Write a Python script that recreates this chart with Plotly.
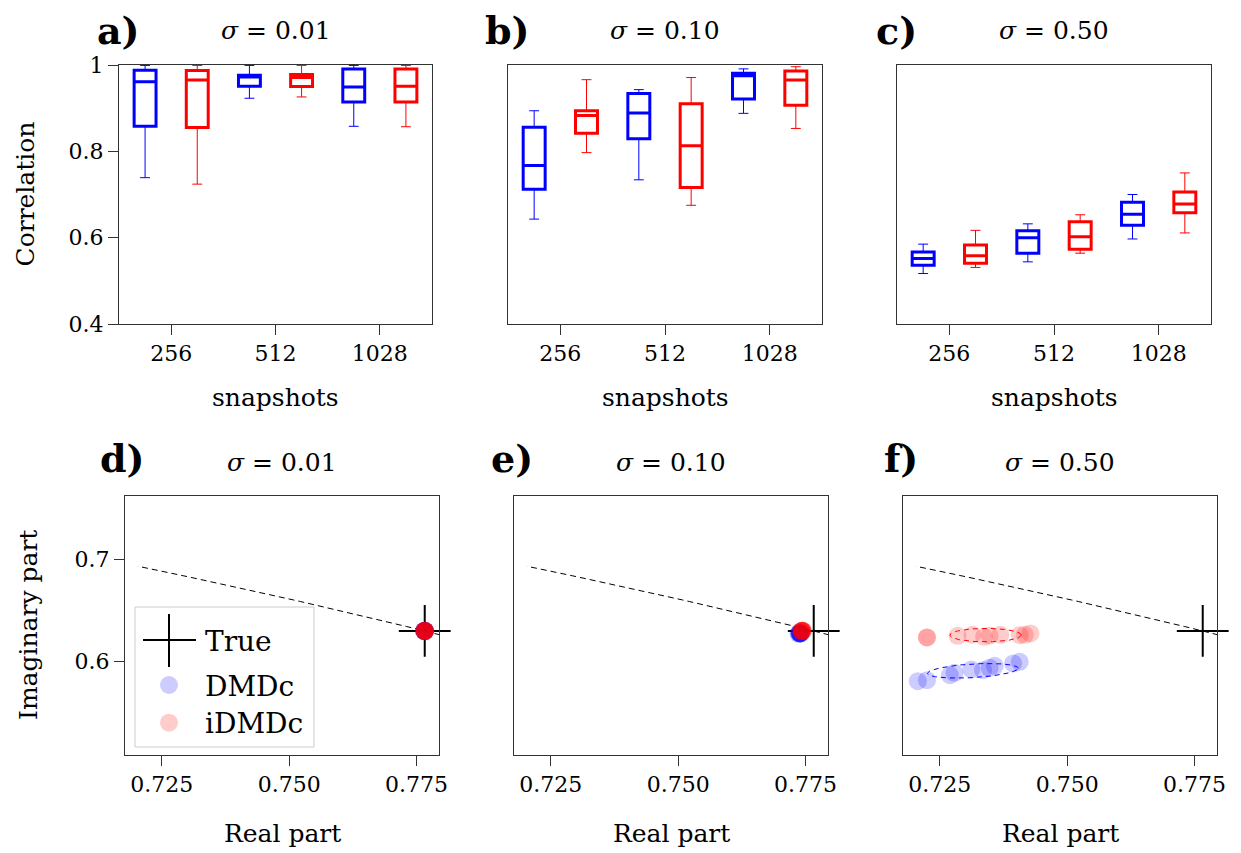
import numpy as np
import plotly.graph_objects as go
from plotly.subplots import make_subplots

W, H = 1241, 853
FONT = "DejaVu Serif"

# ---------------- data ----------------
snapshots = ["256", "512", "1028"]
sigmas = ["0.01", "0.10", "0.50"]
panel_letters_top = ["a)", "b)", "c)"]
panel_letters_bot = ["d)", "e)", "f)"]

# box statistics per panel (a, b, c), each list over snapshots 256/512/1028
dmdc_lower = [[0.739, 0.923, 0.858], [0.643, 0.734, 0.888], [0.517, 0.544, 0.597]]
dmdc_q1    = [[0.858, 0.951, 0.914], [0.712, 0.829, 0.921], [0.536, 0.564, 0.629]]
dmdc_med   = [[0.961, 0.972, 0.949], [0.767, 0.889, 0.975], [0.552, 0.600, 0.654]]
dmdc_q3    = [[0.988, 0.976, 0.991], [0.856, 0.934, 0.981], [0.567, 0.616, 0.682]]
dmdc_upper = [[0.999, 0.999, 0.999], [0.894, 0.943, 0.991], [0.585, 0.632, 0.700]]

idmdc_lower = [[0.724, 0.926, 0.857], [0.797, 0.675, 0.853], [0.531, 0.564, 0.611]]
idmdc_q1    = [[0.855, 0.950, 0.914], [0.842, 0.716, 0.907], [0.541, 0.573, 0.658]]
idmdc_med   = [[0.965, 0.971, 0.951], [0.883, 0.813, 0.965], [0.558, 0.602, 0.678]]
idmdc_q3    = [[0.987, 0.978, 0.991], [0.894, 0.910, 0.986], [0.583, 0.637, 0.706]]
idmdc_upper = [[0.999, 0.999, 0.999], [0.966, 0.971, 0.996], [0.617, 0.653, 0.750]]

# eigenvalue estimates per panel (d, e, f)
true_re = 0.7766
true_im = 0.6300

dmdc_re = [
    [0.7765, 0.7766, 0.7767, 0.7764, 0.7766, 0.7765, 0.7767, 0.7766, 0.7765, 0.7766],
    [0.7736, 0.7738, 0.7739, 0.7740, 0.7737, 0.7741, 0.7739, 0.7738, 0.7740, 0.7739],
    [0.7207, 0.7225, 0.7270, 0.7279, 0.7312, 0.7335, 0.7348, 0.7358, 0.7394, 0.7407],
]
dmdc_im = [
    [0.6299, 0.6300, 0.6301, 0.6300, 0.6299, 0.6301, 0.6300, 0.6299, 0.6300, 0.6301],
    [0.6272, 0.6276, 0.6278, 0.6275, 0.6279, 0.6277, 0.6274, 0.6280, 0.6276, 0.6278],
    [0.5806, 0.5816, 0.5865, 0.5888, 0.5921, 0.5914, 0.5937, 0.5957, 0.5980, 0.5996],
]
idmdc_re = [
    [0.7766, 0.7765, 0.7766, 0.7767, 0.7766, 0.7765, 0.7766, 0.7767, 0.7766, 0.7766],
    [0.7741, 0.7743, 0.7744, 0.7742, 0.7745, 0.7743, 0.7742, 0.7744, 0.7743, 0.7745],
    [0.7225, 0.7225, 0.7285, 0.7314, 0.7337, 0.7348, 0.7369, 0.7407, 0.7417, 0.7428],
]
idmdc_im = [
    [0.6300, 0.6301, 0.6300, 0.6299, 0.6300, 0.6301, 0.6300, 0.6299, 0.6300, 0.6300],
    [0.6299, 0.6301, 0.6302, 0.6300, 0.6303, 0.6301, 0.6299, 0.6302, 0.6300, 0.6301],
    [0.6236, 0.6236, 0.6252, 0.6262, 0.6242, 0.6255, 0.6262, 0.6258, 0.6262, 0.6275],
]

# dashed confidence ellipses in panel f: centre re, centre im, half width, half height, tilt
ell_dmdc = [0.7315, 0.5908, 0.0089, 0.0067, 0.0025]
ell_idmdc = [0.7340, 0.6259, 0.0070, 0.0066, 0.0000]

# unit-circle arc (angles, rad)
arc_theta = [0.597, 0.7665]

BLUE = "#0000ff"
RED = "#ff0000"
BLUE_A = "rgba(0,0,255,0.2)"
RED_A = "rgba(255,0,0,0.2)"

# ---------------- layout helpers ----------------
def px(x):
    return x / W

def py(y):
    return 1 - y / H

top_x = [(119, 432), (508, 822), (897, 1211)]
bot_x = [(125, 439), (514, 828), (903, 1217)]
top_y = (65, 324)
bot_y = (495.7, 755)

fig = make_subplots(rows=2, cols=3)

# ---------------- box plots ----------------
positions = np.arange(1, len(snapshots) + 1)
OFF = 0.25
BW = 0.21
for p in range(3):
    for (lo, q1, md, q3, up, col, sgn) in [
        (dmdc_lower, dmdc_q1, dmdc_med, dmdc_q3, dmdc_upper, BLUE, -1),
        (idmdc_lower, idmdc_q1, idmdc_med, idmdc_q3, idmdc_upper, RED, 1),
    ]:
        xs = positions + sgn * OFF
        # thin whiskers
        fig.add_trace(go.Box(x=xs, q1=q1[p], median=md[p], q3=q3[p],
                             lowerfence=lo[p], upperfence=up[p], width=BW,
                             whiskerwidth=0.45, line=dict(color=col, width=1),
                             fillcolor="rgba(0,0,0,0)", boxpoints=False,
                             showlegend=False, hoverinfo="skip"), row=1, col=p + 1)
        # thick box + median
        fig.add_trace(go.Box(x=xs, q1=q1[p], median=md[p], q3=q3[p],
                             lowerfence=q1[p], upperfence=q3[p], width=BW,
                             whiskerwidth=0, line=dict(color=col, width=3),
                             fillcolor="rgba(0,0,0,0)", boxpoints=False,
                             showlegend=False, hoverinfo="skip"), row=1, col=p + 1)

# ---------------- eigenvalue panels ----------------
th = np.linspace(arc_theta[0], arc_theta[1], 80)
tt = np.linspace(0, 2 * np.pi, 120)
for p in range(3):
    r, c = 2, p + 1
    fig.add_trace(go.Scatter(x=np.cos(th), y=np.sin(th), mode="lines",
                             line=dict(color="black", width=1, dash="6px,4px"),
                             showlegend=False, hoverinfo="skip"), row=r, col=c)
    fig.add_trace(go.Scatter(x=[true_re], y=[true_im], mode="markers",
                             marker=dict(symbol="cross-thin", size=37,
                                         line=dict(color="black", width=2)),
                             cliponaxis=False, showlegend=False, hoverinfo="skip"),
                  row=r, col=c)
    fig.add_trace(go.Scatter(x=dmdc_re[p], y=dmdc_im[p], mode="markers",
                             marker=dict(color=BLUE_A, size=18, line=dict(width=0)),
                             showlegend=False, hoverinfo="skip"), row=r, col=c)
    fig.add_trace(go.Scatter(x=idmdc_re[p], y=idmdc_im[p], mode="markers",
                             marker=dict(color=RED_A, size=18, line=dict(width=0)),
                             showlegend=False, hoverinfo="skip"), row=r, col=c)
    if p == 2:
        for e, col in [(ell_dmdc, BLUE), (ell_idmdc, RED)]:
            cx, cy, ax, ay, tl = e
            fig.add_trace(go.Scatter(x=cx + ax * np.cos(tt),
                                     y=cy + ay * np.sin(tt) + tl * np.cos(tt),
                                     mode="lines",
                                     line=dict(color=col, width=1, dash="5px,4px"),
                                     showlegend=False, hoverinfo="skip"), row=r, col=c)

# ---------------- axes ----------------
axis_common = dict(showline=True, mirror=True, linecolor="#333333", linewidth=1,
                   ticks="outside", ticklen=10, tickcolor="#333333", tickwidth=1,
                   showgrid=False, zeroline=False, automargin=False,
                   tickfont=dict(family=FONT, size=22, color="black"))

for i in range(3):
    fig.update_xaxes(axis_common, row=1, col=i + 1,
                     domain=[px(top_x[i][0]), px(top_x[i][1])],
                     range=[0.5, 3.5], tickvals=list(positions), ticktext=snapshots)
    fig.update_yaxes(axis_common, row=1, col=i + 1,
                     domain=[py(top_y[1]), py(top_y[0])], range=[0.4, 1.0],
                     tickvals=[0.4, 0.6, 0.8, 1.0], ticktext=["0.4", "0.6", "0.8", "1"],
                     showticklabels=(i == 0), ticks="outside" if i == 0 else "")
    fig.update_xaxes(axis_common, row=2, col=i + 1,
                     domain=[px(bot_x[i][0]), px(bot_x[i][1])],
                     range=[0.7178, 0.7794], tickvals=[0.725, 0.75, 0.775],
                     ticktext=["0.725", "0.750", "0.775"])
    fig.update_yaxes(axis_common, row=2, col=i + 1,
                     domain=[py(bot_y[1]), py(bot_y[0])], range=[0.508, 0.763],
                     tickvals=[0.6, 0.7], ticktext=["0.6", "0.7"],
                     showticklabels=(i == 0), ticks="outside" if i == 0 else "")

# ---------------- text ----------------
ann = []
def text(x, y, s, size, xanchor="center", yanchor="middle", angle=0, bold=False):
    ann.append(dict(x=px(x), y=py(y), xref="paper", yref="paper", text=s,
                    showarrow=False, xanchor=xanchor, yanchor=yanchor,
                    textangle=angle,
                    font=dict(family=FONT, size=size, color="black",
                              weight="bold" if bold else "normal")))

for i in range(3):
    cx = (top_x[i][0] + top_x[i][1]) / 2
    text(cx, 30, "<i>σ</i> = " + sigmas[i], 25)
    text(top_x[i][0] - 1, 31, panel_letters_top[i], 38, bold=True)
    text(cx, 397, "snapshots", 25)
    cxb = (bot_x[i][0] + bot_x[i][1]) / 2
    text(cxb, 462, "<i>σ</i> = " + sigmas[i], 25)
    text(bot_x[i][0] - 2, 459, panel_letters_bot[i], 38, bold=True)
    text(cxb, 833, "Real part", 25)

text(25, 194.5, "Correlation", 25, angle=-90)
text(28, 625, "Imaginary part", 25, angle=-90)

# ---------------- manual legend in panel d ----------------
shapes = []
shapes.append(dict(type="rect", xref="paper", yref="paper",
                   x0=px(135), x1=px(314), y0=py(747), y1=py(607),
                   line=dict(color="#cccccc", width=1), fillcolor="rgba(255,255,255,0.8)"))
shapes.append(dict(type="line", xref="paper", yref="paper",
                   x0=px(143), x1=px(196), y0=py(640), y1=py(640),
                   line=dict(color="black", width=2)))
shapes.append(dict(type="line", xref="paper", yref="paper",
                   x0=px(169), x1=px(169), y0=py(667), y1=py(614),
                   line=dict(color="black", width=2)))
for yc, col in [(685, BLUE_A), (722.7, RED_A)]:
    shapes.append(dict(type="circle", xref="paper", yref="paper",
                       x0=px(160), x1=px(178), y0=py(yc + 9), y1=py(yc - 9),
                       line=dict(width=0), fillcolor=col))
text(203, 641, "True", 28, xanchor="left")
text(203, 686, "DMDc", 28, xanchor="left")
text(203, 723, "iDMDc", 28, xanchor="left")

fig.update_layout(width=W, height=H,
                  margin=dict(l=0, r=0, t=0, b=0, pad=0, autoexpand=False),
                  paper_bgcolor="white", plot_bgcolor="white",
                  boxmode="overlay", annotations=ann, shapes=shapes,
                  font=dict(family=FONT, color="black"))

fig.write_html("out.html",
               config={"displayModeBar": False},
               post_script="var gd=document.getElementById('{plot_id}');"
                           "gd.style.position='fixed';gd.style.top='0';gd.style.left='0';"
                           "document.body.style.margin='0';"
                           "document.body.style.overflow='hidden';")
